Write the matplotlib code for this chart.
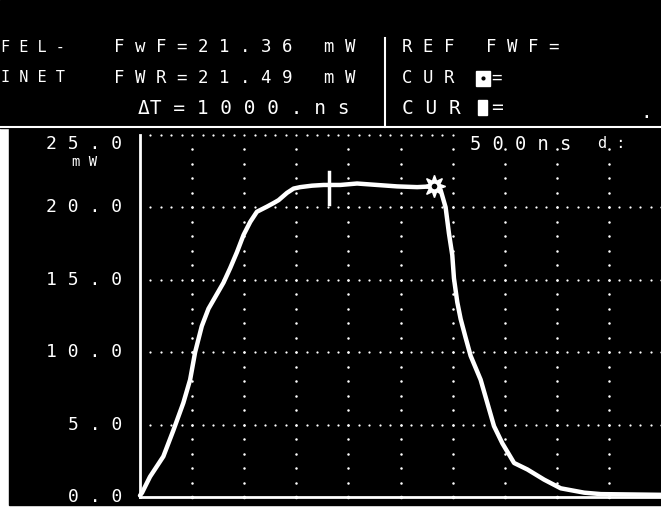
import matplotlib
matplotlib.use("Agg")
import matplotlib.pyplot as plt
import numpy as np

# ---- data ----
time_ns = [0, 20, 96, 224, 320, 416, 481, 529, 593, 657, 721, 801, 865, 930, 994,
           1058, 1122, 1218, 1282, 1330, 1410, 1474, 1538, 1650, 1762, 1923, 2083,
           2275, 2468, 2660, 2800, 2885, 2933, 2965, 2997, 3013, 3045, 3077, 3125,
           3173, 3269, 3333, 3397, 3478, 3590, 3718, 3878, 4038, 4263, 4423, 5000]
power_mw = [0.1, 0.3, 1.4, 2.8, 4.6, 6.5, 8.1, 10.0, 11.8, 13.0, 13.8, 14.8, 15.8,
            16.9, 18.1, 19.0, 19.7, 20.05, 20.3, 20.5, 21.0, 21.3, 21.4, 21.5, 21.55,
            21.55, 21.65, 21.55, 21.45, 21.4, 21.45, 21.2, 20.0, 18.2, 16.7, 15.1,
            13.45, 12.3, 11.0, 9.75, 8.1, 6.5, 4.9, 3.7, 2.35, 1.9, 1.2, 0.6, 0.3,
            0.2, 0.15]
cursor1 = (1810, 21.55)
cursor2 = (2820, 21.45)

ytick_vals = [0, 5, 10, 15, 20, 25]
ytick_labels = ["0 . 0", "5 . 0", "1 0 . 0", "1 5 . 0", "2 0 . 0", "2 5 . 0"]

W, H = 661, 511
fig = plt.figure(figsize=(W / 100, H / 100), dpi=100)
fig.patch.set_facecolor("white")
MONO = "DejaVu Sans Mono"

def px(x, y):
    return x / W, 1 - y / H

# black screen backgrounds
bg = fig.add_axes([0, 0, 1, 1])
bg.set_xlim(0, W); bg.set_ylim(H, 0); bg.axis("off")
bg.add_patch(plt.Rectangle((0, 0), W, 128, color="black"))
bg.add_patch(plt.Rectangle((9, 128), W - 9, 377, color="black"))
# separators
bg.plot([0, W], [127, 127], color="white", lw=1.5)
bg.plot([385, 385], [38, 127], color="white", lw=1.5)

# header text
def htxt(x, y, s, size=12.5, weight="normal"):
    fig.text(*px(x, y), s, color="white", family=MONO, fontsize=size,
             va="center", ha="left", weight=weight)

htxt(1, 47, "F E L -", size=11)
htxt(1, 78, "I N E T", size=11)
htxt(114, 47, "F w F = 2 1 . 3 6   m W")
htxt(114, 78, "F W R = 2 1 . 4 9   m W")
htxt(138, 108, "\u0394T = 1 0 0 0 . n s", size=14)
htxt(402, 47, "R E F   F W F =")
htxt(402, 78, "C U R")
htxt(402, 108, "C U R", size=14)
bg.add_patch(plt.Rectangle((476, 71), 14, 15, color="white"))
bg.plot([483], [78], marker="o", ms=2, color="black")
htxt(491, 78, "=")
bg.add_patch(plt.Rectangle((478, 100), 9, 15, color="white"))
htxt(491, 108, "=", size=14)
htxt(640, 112, ".", size=14)
htxt(470, 144, "5 0 0 n s", size=13.5)
htxt(598, 144, "d :", size=11)

# plot area
x0, x1, ytop, ybot = 140, 661, 135, 497
ax = fig.add_axes([x0 / W, 1 - ybot / H, (x1 - x0) / W, (ybot - ytop) / H])
ax.set_facecolor("black")
ax.set_xlim(0, 5000)
ax.set_ylim(0, 25)
for s in ["top", "right"]:
    ax.spines[s].set_visible(False)
for s in ["left", "bottom"]:
    ax.spines[s].set_color("white")
    ax.spines[s].set_linewidth(2)
ax.set_xticks([])
ax.set_yticks([])

# graticule dots
div = 500
xs_h = np.arange(0, 5001, div / 5)
for yv in [5, 10, 15, 20]:
    ax.plot(xs_h[1:], np.full(len(xs_h) - 1, yv), ls="none", marker="o", ms=1.6,
            color="white", mec="none")
xs_top = xs_h[(xs_h > 0) & (xs_h < 3050)]
ax.plot(xs_top, np.full(len(xs_top), 25), ls="none", marker="o", ms=1.6,
        color="white", mec="none", clip_on=False)
ys_v = np.arange(1, 25, 1)
for xv in np.arange(div, 5000, div):
    ax.plot(np.full(len(ys_v), xv), ys_v, ls="none", marker="o", ms=1.8,
            color="white", mec="none")
    ax.plot([xv], [0], marker="o", ms=2.5, color="white", mec="none", clip_on=False)

# trace
ax.plot(time_ns, power_mw, color="white", lw=3.2, solid_joinstyle="round",
        solid_capstyle="round", clip_on=False)
# cursors
ax.plot([cursor1[0]] * 2, [cursor1[1] - 1.3, cursor1[1] + 0.9], color="white", lw=2.5)
ax.plot(*cursor2, marker=(8, 1, 0), ms=16, color="white", mec="white")
ax.plot(*cursor2, marker="o", ms=4, color="black", mec="none")

# y labels
for v, lab in zip(ytick_vals, ytick_labels):
    yp = ybot - v / 25 * (ybot - ytop)
    if v == 25:
        yp += 9
    fig.text(*px(122, yp), lab, color="white", family=MONO, fontsize=13,
             ha="right", va="center")
fig.text(*px(97, 162), "m W", color="white", family=MONO, fontsize=10,
         ha="right", va="center")

fig.savefig("out.png", dpi=100, facecolor=fig.get_facecolor())
